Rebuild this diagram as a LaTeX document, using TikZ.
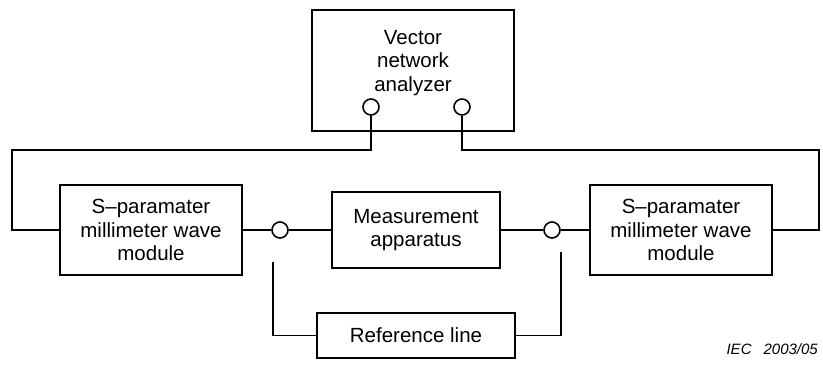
\documentclass[tikz,border=0pt]{standalone}
\usepackage{fontspec}
\setmainfont{Liberation Sans}
\begin{document}
\begin{tikzpicture}[x=1pt,y=1pt,yscale=-1,xscale=1,
		wire/.style={line width=1.6},
		unitbox/.style={draw,line width=1.6,rectangle,inner sep=0pt},
		port/.style={draw,line width=1.6,circle,fill=white,inner sep=0pt,minimum size=16},
		lbl/.style={align=center,font=\fontsize{20.5}{23.5}\selectfont}]
			\useasboundingbox (0,0) rectangle (823,371);

			%Shape: Rectangle [id:vna]
			\node [unitbox,minimum width=202,minimum height=121] (vna) at (413,70.5) {};
			\node [lbl] (vnaText) at (413,63) {Vector\\network\\analyzer};
			%Shape: Rectangle [id:smL]
			\node [unitbox,minimum width=182,minimum height=90,lbl] (smL) at (151,230) {S--paramater\\millimeter wave\\module};
			%Shape: Rectangle [id:meas]
			\node [unitbox,minimum width=168,minimum height=76,lbl] (meas) at (416,230) {Measurement\\apparatus};
			%Shape: Rectangle [id:ref]
			\node [unitbox,minimum width=198,minimum height=45,lbl] (ref) at (416,335.5) {Reference line};
			%Shape: Rectangle [id:smR]
			\node [unitbox,minimum width=182,minimum height=90,lbl] (smR) at (681,230) {S--paramater\\millimeter wave\\module};

			%Shape: Circle [id:pL]
			\node [port] (pL) at (371,107) {};
			%Shape: Circle [id:pR]
			\node [port] (pR) at (462,107) {};
			%Shape: Circle [id:cL]
			\node [port] (cL) at (280,230) {};
			%Shape: Circle [id:cR]
			\node [port] (cR) at (552,230) {};

			%Free ends of the reference branch
			\coordinate (refTopL) at (273,262);
			\coordinate (refTopR) at (561,252);

			%Straight Lines [id:loopL]
			\draw [wire] (pL.south) |- (12,150) |- (smL.west) ;
			%Straight Lines [id:loopR]
			\draw [wire] (pR.south) |- (819,150) |- (smR.east) ;
			%Straight Lines [id:chain]
			\draw [wire] (smL.east) -- (cL) ;
			\draw [wire] (cL) -- (meas.west) ;
			\draw [wire] (meas.east) -- (cR) ;
			\draw [wire] (cR) -- (smR.west) ;
			%Straight Lines [id:refline]
			\draw [wire] (refTopL) |- (ref.west) ;
			\draw [wire] (refTopR) |- (ref.east) ;

			%Text: IEC mark
			\node [anchor=south east,inner sep=0pt,font=\fontsize{15}{18}\selectfont\itshape] (iec) at (818,355) {IEC\hspace{12pt}2003/05};
		\end{tikzpicture}
\end{document}
